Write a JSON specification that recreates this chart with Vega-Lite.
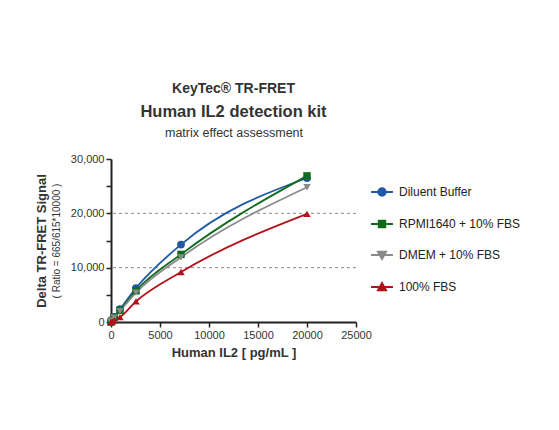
{
  "$schema": "https://vega.github.io/schema/vega-lite/v6.json",
  "width": 245,
  "height": 163,
  "padding": {"left": 35, "top": 81, "right": 5, "bottom": 5},
  "title": {
    "text": "KeyTec® TR-FRET",
    "subtitle": "Human IL2 detection kit",
    "fontSize": 14,
    "fontWeight": "bold",
    "color": "#333333",
    "subtitleFontSize": 16.5,
    "subtitleFontWeight": "bold",
    "subtitleColor": "#333333",
    "subtitlePadding": 8,
    "anchor": "middle",
    "frame": "group",
    "offset": 6
  },
  "datasets": {
    "grid": [{"v": 10000}, {"v": 20000}],
    "curves": [
      {"series": "Diluent Buffer", "conc": 0, "signal": 0},
      {"series": "Diluent Buffer", "conc": 116, "signal": 350},
      {"series": "Diluent Buffer", "conc": 325, "signal": 950},
      {"series": "Diluent Buffer", "conc": 911, "signal": 2350},
      {"series": "Diluent Buffer", "conc": 2551, "signal": 6250},
      {"series": "Diluent Buffer", "conc": 7143, "signal": 14250},
      {"series": "Diluent Buffer", "conc": 20000, "signal": 26500},
      {"series": "RPMI1640 + 10% FBS", "conc": 0, "signal": 0},
      {"series": "RPMI1640 + 10% FBS", "conc": 116, "signal": 300},
      {"series": "RPMI1640 + 10% FBS", "conc": 325, "signal": 850},
      {"series": "RPMI1640 + 10% FBS", "conc": 911, "signal": 2150},
      {"series": "RPMI1640 + 10% FBS", "conc": 2551, "signal": 5750},
      {"series": "RPMI1640 + 10% FBS", "conc": 7143, "signal": 12450},
      {"series": "RPMI1640 + 10% FBS", "conc": 20000, "signal": 26900},
      {"series": "DMEM + 10% FBS", "conc": 0, "signal": 0},
      {"series": "DMEM + 10% FBS", "conc": 116, "signal": 280},
      {"series": "DMEM + 10% FBS", "conc": 325, "signal": 800},
      {"series": "DMEM + 10% FBS", "conc": 911, "signal": 2000},
      {"series": "DMEM + 10% FBS", "conc": 2551, "signal": 5400},
      {"series": "DMEM + 10% FBS", "conc": 7143, "signal": 11900},
      {"series": "DMEM + 10% FBS", "conc": 20000, "signal": 24800},
      {"series": "100% FBS", "conc": 0, "signal": 0},
      {"series": "100% FBS", "conc": 116, "signal": 100},
      {"series": "100% FBS", "conc": 325, "signal": 300},
      {"series": "100% FBS", "conc": 911, "signal": 900},
      {"series": "100% FBS", "conc": 2551, "signal": 3800},
      {"series": "100% FBS", "conc": 7143, "signal": 9200},
      {"series": "100% FBS", "conc": 20000, "signal": 19900}
    ]
  },
  "layer": [
    {
      "data": {"name": "grid"},
      "mark": {"type": "rule", "color": "#888888", "strokeDash": [3, 3], "strokeWidth": 1},
      "encoding": {
        "y": {
          "field": "v",
          "type": "quantitative",
          "scale": {"domain": [0, 30000], "nice": false},
          "axis": {
            "orient": "left",
            "labels": false,
            "ticks": false,
            "domain": false,
            "grid": false,
            "title": "( Ratio = 665/615*10000 )",
            "titleFontSize": 10,
            "titleFontWeight": "normal",
            "titlePadding": 50
          }
        }
      }
    },
    {
      "data": {"name": "curves"},
      "mark": {"type": "line", "interpolate": "monotone", "strokeWidth": 1.8},
      "encoding": {
        "x": {
          "field": "conc",
          "type": "quantitative",
          "scale": {"domain": [0, 25000], "nice": false},
          "axis": {
            "orient": "bottom",
            "values": [0, 5000, 10000, 15000, 20000, 25000],
            "format": "d",
            "labelFlush": false,
            "title": "Human IL2 [ pg/mL ]",
            "titleFontSize": 13,
            "titlePadding": 6
          }
        },
        "y": {
          "field": "signal",
          "type": "quantitative",
          "scale": {"domain": [0, 30000], "nice": false},
          "axis": {
            "orient": "left",
            "values": [0, 5000, 10000, 15000, 20000, 25000, 30000],
            "labelExpr": "datum.value % 10000 === 0 ? format(datum.value, ',') : ''",
            "labelFlush": false,
            "title": "Delta TR-FRET Signal",
            "titleFontSize": 13,
            "titlePadding": 22
          }
        },
        "color": {
          "field": "series",
          "type": "nominal",
          "scale": {
            "domain": ["Diluent Buffer", "RPMI1640 + 10% FBS", "DMEM + 10% FBS", "100% FBS"],
            "range": ["#1f5aa6", "#116b1c", "#8a8a8a", "#b3121a"]
          },
          "legend": {
            "title": null,
            "orient": "right",
            "offset": -7,
            "padding": 21,
            "rowPadding": 12,
            "labelFontSize": 12,
            "labelColor": "#222222",
            "labelOffset": 5,
            "symbolSize": 480,
            "symbolStrokeWidth": 1.8,
            "encode": {
              "symbols": {
                "update": {
                  "fill": {"signal": "scale('color', datum.value)"},
                  "stroke": {"signal": "scale('color', datum.value)"},
                  "shape": {"signal": "datum.value === 'Diluent Buffer' ? 'M-1,0H1M-0.35,0A0.35,0.35 0 1,0 0.35,0A0.35,0.35 0 1,0 -0.35,0Z' : datum.value === 'RPMI1640 + 10% FBS' ? 'M-1,0H1M-0.3,-0.3H0.3V0.3H-0.3Z' : datum.value === 'DMEM + 10% FBS' ? 'M-1,0H1M-0.38,-0.3H0.38L0,0.38Z' : 'M-1,0H1M-0.38,0.3H0.38L0,-0.38Z'"}
                }
              }
            }
          }
        }
      }
    },
    {
      "data": {"name": "curves"},
      "transform": [{"filter": "datum.series === 'Diluent Buffer'"}],
      "mark": {"type": "point", "shape": "circle", "filled": true, "size": 60, "opacity": 1},
      "encoding": {
        "x": {"field": "conc", "type": "quantitative", "scale": {"domain": [0, 25000], "nice": false}, "axis": null},
        "y": {"field": "signal", "type": "quantitative", "scale": {"domain": [0, 30000], "nice": false}, "axis": null},
        "color": {"field": "series", "type": "nominal"}
      }
    },
    {
      "data": {"name": "curves"},
      "transform": [{"filter": "datum.series === 'RPMI1640 + 10% FBS'"}],
      "mark": {"type": "point", "shape": "square", "filled": true, "size": 55, "opacity": 1},
      "encoding": {
        "x": {"field": "conc", "type": "quantitative", "scale": {"domain": [0, 25000], "nice": false}, "axis": null},
        "y": {"field": "signal", "type": "quantitative", "scale": {"domain": [0, 30000], "nice": false}, "axis": null},
        "color": {"field": "series", "type": "nominal"}
      }
    },
    {
      "data": {"name": "curves"},
      "transform": [{"filter": "datum.series === 'DMEM + 10% FBS'"}],
      "mark": {"type": "point", "shape": "triangle-down", "filled": true, "size": 55, "opacity": 1},
      "encoding": {
        "x": {"field": "conc", "type": "quantitative", "scale": {"domain": [0, 25000], "nice": false}, "axis": null},
        "y": {"field": "signal", "type": "quantitative", "scale": {"domain": [0, 30000], "nice": false}, "axis": null},
        "color": {"field": "series", "type": "nominal"}
      }
    },
    {
      "data": {"name": "curves"},
      "transform": [{"filter": "datum.series === '100% FBS'"}],
      "mark": {"type": "point", "shape": "triangle-up", "filled": true, "size": 55, "opacity": 1},
      "encoding": {
        "x": {"field": "conc", "type": "quantitative", "scale": {"domain": [0, 25000], "nice": false}, "axis": null},
        "y": {"field": "signal", "type": "quantitative", "scale": {"domain": [0, 30000], "nice": false}, "axis": null},
        "color": {"field": "series", "type": "nominal"}
      }
    },
    {
      "data": {"name": "grid"},
      "mark": {"type": "point", "opacity": 0},
      "encoding": {
        "x": {
          "field": "v",
          "type": "quantitative",
          "scale": {"domain": [0, 25000], "nice": false},
          "axis": {
            "orient": "top",
            "labels": false,
            "ticks": false,
            "domain": false,
            "grid": false,
            "title": "matrix effect assessment",
            "titleFontSize": 12.5,
            "titleFontWeight": "normal",
            "titlePadding": 20
          }
        },
        "y": {"field": "v", "type": "quantitative", "scale": {"domain": [0, 30000], "nice": false}, "axis": null}
      }
    }
  ],
  "resolve": {"scale": {"x": "independent", "y": "independent"}},
  "config": {
    "font": "Liberation Sans",
    "view": {"stroke": null},
    "axis": {
      "grid": false,
      "domainColor": "#222222",
      "domainWidth": 2,
      "tickColor": "#222222",
      "tickWidth": 1.5,
      "tickSize": 5,
      "labelColor": "#333333",
      "labelFontSize": 11,
      "labelPadding": 2,
      "titleColor": "#333333",
      "titleFontWeight": "bold"
    }
  }
}
